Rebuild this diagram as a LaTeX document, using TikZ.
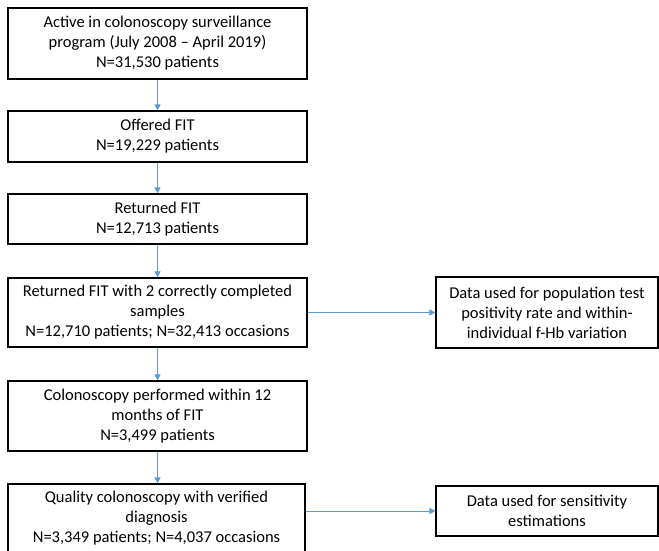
\documentclass[tikz,border=0pt]{standalone}
\usepackage{fontspec}
\setmainfont{Carlito}
\usetikzlibrary{arrows.meta}
\definecolor{arrblue}{RGB}{91,155,213}
\tikzset{
  x=1bp, y=-1bp,
  box/.style={draw=black, line width=1.2bp, align=center, inner sep=0pt,
    font=\fontsize{16.5bp}{20bp}\selectfont},
  conn/.style={draw=arrblue, line width=0.9bp, -{Triangle[length=6bp,width=6bp]}}
}
\begin{document}
\begin{tikzpicture}
\useasboundingbox (0,0) rectangle (659,551);
\node[box, minimum width=299bp, minimum height=71bp] (b1) at (157.5,43.5)
  {Active in colonoscopy surveillance\\program (July 2008 -- April 2019)\\N=31,530 patients};
\node[box, minimum width=299bp, minimum height=51bp] (b2) at (157.5,136.5)
  {Offered FIT\\N=19,229 patients};
\node[box, minimum width=299bp, minimum height=50bp] (b3) at (157.5,219)
  {Returned FIT\\N=12,713 patients};
\node[box, minimum width=299bp, minimum height=69bp] (b4) at (157.5,312.5)
  {Returned FIT with 2 correctly completed\\samples\\N=12,710 patients; N=32,413 occasions};
\node[box, minimum width=299bp, minimum height=70bp] (b5) at (157.5,416)
  {Colonoscopy performed within 12\\months of FIT\\N=3,499 patients};
\node[box, minimum width=297bp, minimum height=68bp] (b6) at (156.5,518)
  {Quality colonoscopy with verified\\diagnosis\\N=3,349 patients; N=4,037 occasions};
\node[box, minimum width=222bp, minimum height=71bp] (r1) at (547,312.5)
  {Data used for population test\\positivity rate and within-\\individual f-Hb variation};
\node[box, minimum width=222bp, minimum height=50bp] (r2) at (547,511)
  {Data used for sensitivity\\estimations};
\draw[conn] (b1.south) -- (b2.north);
\draw[conn] (b2.south) -- (b3.north);
\draw[conn] (b3.south) -- (b4.north);
\draw[conn] (b4.south) -- (b5.north);
\draw[conn] (b5.south) -- (b5.south |- b6.north);
\draw[conn] (b4.east) -- (r1.west);
\draw[conn] (r2.west -| b6.east) -- (r2.west);
\end{tikzpicture}
\end{document}
